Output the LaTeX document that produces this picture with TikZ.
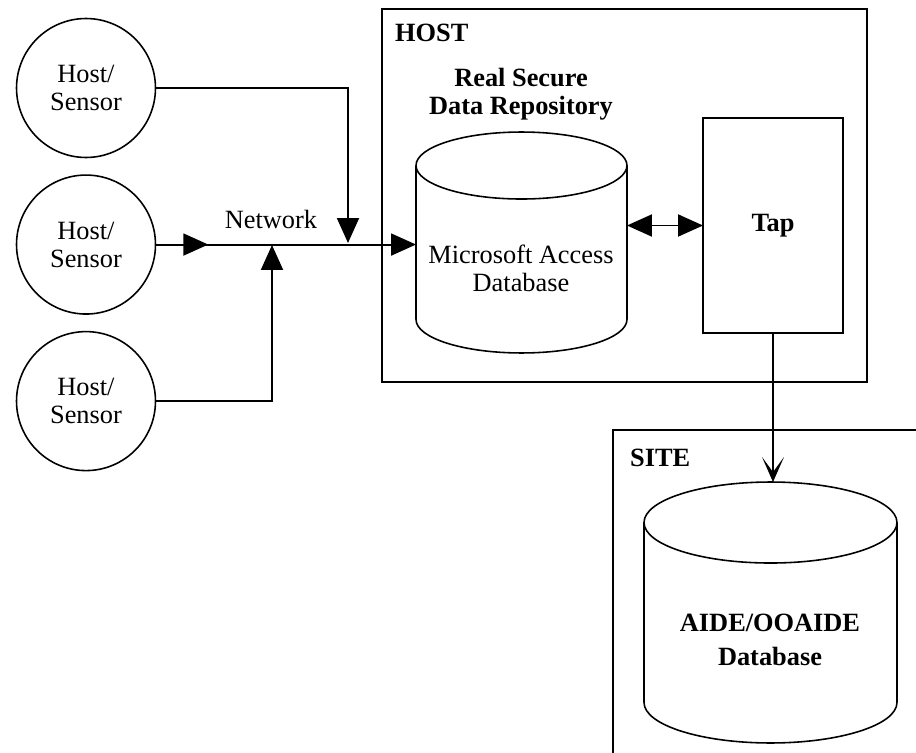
\documentclass[tikz,border=0pt]{standalone}
\usepackage{fontspec}
\setmainfont{Liberation Serif}
\usetikzlibrary{arrows.meta, positioning}

\begin{document}
\begin{tikzpicture}[
    x=0.02cm, y=-0.02cm,
    font=\fontsize{15}{16}\selectfont,
    >={Triangle[length=0.5cm, width=0.44cm]},
    sensor/.style={
        draw, circle,
        line width=0.9pt,
        minimum size=2.78cm,
        inner sep=0pt,
        align=center
    },
    dbody/.style={inner sep=0pt, outer sep=0pt},
    dbline/.style={line width=0.9pt},
    frame/.style={draw, line width=1.1pt, inner sep=0pt, outer sep=0pt},
    title/.style={font=\fontsize{15}{16}\selectfont\bfseries, align=center},
    arrow/.style={->, line width=1.1pt},
    barb/.style={-{Stealth[length=0.5cm, width=0.44cm, inset=0.3cm]}, line width=1.1pt}
]

\useasboundingbox (0,0) rectangle (916,753);

% sensors
\node[sensor] (hs1) at (86,88) {Host/\\Sensor};
\node[sensor, below=0.32cm of hs1] (hs2) {Host/\\Sensor};
\node[sensor, below=0.32cm of hs2] (hs3) {Host/\\Sensor};

\node (net) at (271,219) {Network};

% host side
\node[frame, minimum width=9.7cm, minimum height=7.46cm] (host) at (624.5,195.5) {};
\node[title, anchor=west] (hostlbl) at (389,33) {HOST};
\node[title] (repo) at (521,94) {Real Secure\\Data Repository};

% access cylinder (body node + drawn caps)
\node[dbody, minimum width=4.22cm, minimum height=3.08cm] (msdb) at (521.5,242.5) {};
\draw[dbline] (msdb.north west) -- (msdb.south west)
    arc[start angle=180, end angle=360, x radius=2.11cm, y radius=0.67cm]
    -- (msdb.north east);
\draw[dbline] (msdb.north) ellipse[x radius=2.11cm, y radius=0.67cm];
\node[align=center] (mstext) at (521,268) {Microsoft Access\\Database};

\node[frame, title, minimum width=2.8cm, minimum height=4.3cm] (tap) at (773,225.5) {Tap};

% site side (cut off at the page edge)
\draw[line width=1.1pt] (916,430) -| (613,753);
\node[title, anchor=west] (sitelbl) at (624,458) {SITE};

% aide cylinder
\node[dbody, minimum width=5.06cm, minimum height=3.6cm] (aide) at (770.5,612.5) {};
\draw[dbline] (aide.north west) -- (aide.south west)
    arc[start angle=180, end angle=360, x radius=2.53cm, y radius=0.81cm]
    -- (aide.north east);
\draw[dbline] (aide.north) ellipse[x radius=2.53cm, y radius=0.81cm];
\coordinate (aidetop) at ([yshift=0.81cm]aide.north);
\node[title, font=\fontsize{15}{19.5}\selectfont\bfseries] (aidetext) at (770,640) {AIDE/OOAIDE\\Database};

\coordinate (j1) at (348,243);
\coordinate (j3) at (272,245);

\draw[arrow] (hs1.east) -| (j1);
\draw[arrow] (hs3.east) -| (j3);
\draw[arrow] (hs2.east) -- ++(52,0);
\draw[arrow] (hs2.east) -- (hs2.east -| msdb.west);
\draw[arrow, <->] (msdb.east |- tap.west) -- (tap.west);
\draw[barb] (tap.south) -- (tap.south |- aidetop);

\end{tikzpicture}
\end{document}
